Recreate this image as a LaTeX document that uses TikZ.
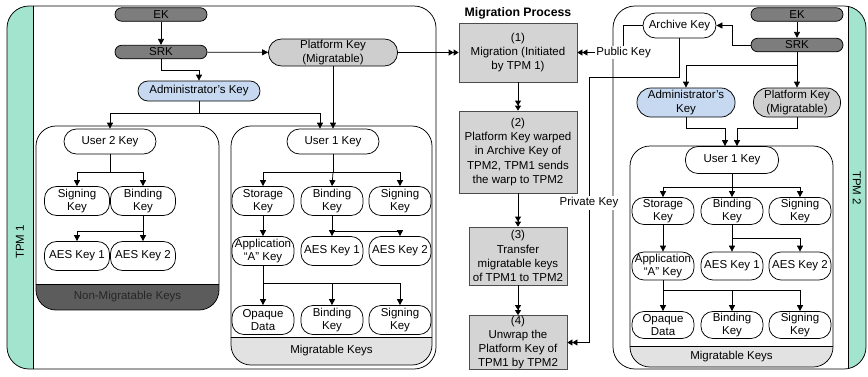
\documentclass[tikz,border=0pt]{standalone}
\usepackage{fontspec}
\setmainfont{Liberation Sans}
\usetikzlibrary{arrows.meta}

\definecolor{tpmteal}{RGB}{163,228,206}
\definecolor{keydark}{RGB}{125,125,125}
\definecolor{platgray}{RGB}{206,206,206}
\definecolor{adminblue}{RGB}{198,217,241}
\definecolor{procgray}{RGB}{212,212,212}
\definecolor{bandlight}{RGB}{226,226,226}
\definecolor{banddark}{RGB}{92,92,92}

\tikzset{
  darkkey/.style={draw, fill=keydark, rounded corners=6.7pt, minimum width=92pt, minimum height=13.5pt, inner sep=0pt},
  userkey/.style={draw, fill=white, rounded corners=12.5pt, minimum width=92pt, minimum height=25pt, inner sep=0pt},
  leafkey/.style={draw, fill=white, rounded corners=12pt, minimum width=62pt, minimum height=29pt, inner sep=0pt, align=center},
  platkey/.style={draw, fill=platgray, rounded corners=13pt, minimum height=27pt, inner sep=0pt, align=center},
  adminkey/.style={draw, fill=adminblue, inner sep=0pt, align=center},
  procbox/.style={draw=black!70, fill=procgray, inner sep=0pt, align=center, font=\fontsize{11.5}{14.2}\selectfont},
  keyarrow/.style={-{Triangle[length=6pt,width=6pt]}},
  dblarrow/.style={-{Triangle[length=5pt,width=6pt]Triangle[length=5pt,width=6pt]}},
  edgelabel/.style={fill=white, inner sep=1.2pt},
  tpmframe/.style={draw, rounded corners=22pt},
  keyframe/.style={draw, rounded corners=20pt},
}

\begin{document}
\begin{tikzpicture}[x=1pt,y=-1pt,font=\fontsize{11.5}{13.5}\selectfont,line width=0.75pt]
\fill[white] (0,0) rectangle (868,376);
\useasboundingbox (0,0) rectangle (868,376);

% ---------- TPM 1 frame ----------
\begin{scope}
  \clip[rounded corners=22pt] (7,6) rectangle (436,369);
  \fill[tpmteal] (7,6) rectangle (33,369);
\end{scope}
\draw[tpmframe] (7,6) rectangle (436,369);
\draw (33,6) -- (33,369);
\node[rotate=90] (tpmonename) at (20,242) {TPM 1};

% non-migratable key area
\begin{scope}
  \clip[rounded corners=20pt] (36,126) rectangle (219,310);
  \fill[banddark] (36,284) rectangle (219,310);
\end{scope}
\draw[keyframe] (36,126) rectangle (219,310);
\draw (36,284) -- (219,284);
\node[text=black!85] (nonmigA) at (127.5,297) {Non-Migratable Keys};

% migratable key area
\begin{scope}
  \clip[rounded corners=20pt] (231,126) rectangle (432,365);
  \fill[bandlight] (231,337) rectangle (432,365);
\end{scope}
\draw[keyframe] (231,126) rectangle (432,365);
\draw (231,337) -- (432,337);
\node (migA) at (331.5,351) {Migratable Keys};

% ---------- TPM 2 frame ----------
\begin{scope}
  \clip[rounded corners=22pt] (613,6) rectangle (866,369);
  \fill[tpmteal] (848,6) rectangle (866,369);
\end{scope}
\draw[tpmframe] (613,6) rectangle (866,369);
\draw (848,6) -- (848,369);
\node[rotate=-90] (tpmtwoname) at (857,188) {TPM 2};

\begin{scope}
  \clip[rounded corners=20pt] (630,146) rectangle (833,367);
  \fill[bandlight] (630,346) rectangle (833,367);
\end{scope}
\draw[keyframe] (630,146) rectangle (833,367);
\draw (630,346) -- (833,346);
\node (migB) at (731.5,357) {Migratable Keys};

% ---------- TPM 1 keys ----------
\node[darkkey] (ekA) at (161,14.5) {EK};
\node[darkkey] (srkA) at (161,52) {SRK};
\node[platkey, minimum width=129pt] (platA) at (333,52.5) {Platform Key\\(Migratable)};
\node[adminkey, rounded corners=10pt, minimum width=122pt, minimum height=20pt] (adminA) at (199,91) {Administrator's Key};
\node[userkey] (user2A) at (110,141.5) {User 2 Key};
\node[userkey] (user1A) at (333,141.5) {User 1 Key};

\node[leafkey, minimum width=65pt] (signA) at (77,201) {Signing\\Key};
\node[leafkey, minimum width=65pt] (bindA) at (143,201) {Binding\\Key};
\node[leafkey, minimum width=65pt] (aesoneA) at (77,256) {AES Key 1};
\node[leafkey, minimum width=65pt] (aestwoA) at (143,256) {AES Key 2};

\node[leafkey] (storM) at (263,201) {Storage\\Key};
\node[leafkey] (bindM) at (332,201) {Binding\\Key};
\node[leafkey] (signM) at (400,201) {Signing\\Key};
\node[leafkey] (appM) at (263,251) {Application\\``A'' Key};
\node[leafkey] (aesoneM) at (332,251) {AES Key 1};
\node[leafkey] (aestwoM) at (400,251) {AES Key 2};
\node[leafkey] (opaqM) at (263,320) {Opaque\\Data};
\node[leafkey] (bindtwoM) at (332,320) {Binding\\Key};
\node[leafkey] (signtwoM) at (400,320) {Signing\\Key};

% TPM 1 connectors
\draw[keyarrow] (ekA) -- (srkA);
\draw[keyarrow] (srkA) -- (platA);
\draw[keyarrow] (srkA.south) -- ++(0,11) -| (adminA.north);
\draw (adminA.south) -- ++(0,12) coordinate (adminsplitA);
\draw[keyarrow] (adminsplitA) -| (user2A.north);
\draw[keyarrow] (adminsplitA) -| ([xshift=-13pt]user1A.north);
\draw[keyarrow] (platA.south) -- (user1A.north);

\draw (user2A.south) -- ++(0,18) coordinate (user2split);
\draw[keyarrow] (user2split) -| (signA.north);
\draw[keyarrow] (user2split) -| (bindA.north);
\draw (bindA.south) -- ++(0,15) coordinate (bindsplitA);
\draw[keyarrow] (bindsplitA) -| (aesoneA.north);
\draw[keyarrow] (bindsplitA) -| (aestwoA.north);

\draw (user1A.south) -- ++(0,18) coordinate (user1split);
\draw[keyarrow] (user1split) -| (storM.north);
\draw[keyarrow] (user1split) -- (bindM.north);
\draw[keyarrow] (user1split) -| (signM.north);
\draw[keyarrow] (storM) -- (appM);
\draw (bindM.south) -- ++(0,15) coordinate (bindsplitM);
\draw[keyarrow] (bindsplitM) -- (aesoneM.north);
\draw[keyarrow] (bindsplitM) -| (aestwoM.north);
\draw (appM.south) -- ++(0,17) coordinate (appsplitM);
\draw[keyarrow] (appsplitM) -- (opaqM.north);
\draw[keyarrow] (appsplitM) -| (bindtwoM.north);
\draw[keyarrow] (appsplitM) -| (signtwoM.north);

% ---------- TPM 2 keys ----------
\node[darkkey] (ekB) at (797,14.5) {EK};
\node[darkkey] (srkB) at (797,45) {SRK};
\node[userkey, minimum width=73pt] (archB) at (679.5,25.5) {Archive Key};
\node[adminkey, rounded corners=14pt, minimum width=98pt, minimum height=29pt] (adminB) at (686,102.5) {Administrator's\\Key};
\node[platkey, rounded corners=14pt, minimum width=87pt, minimum height=29pt] (platB) at (797,102.5) {Platform Key\\(Migratable)};
\node[userkey, minimum width=93pt, minimum height=27pt] (user1B) at (732,160) {User 1 Key};

\node[leafkey, minimum height=27pt] (storB) at (663,211) {Storage\\Key};
\node[leafkey, minimum height=27pt] (bindB) at (732,211) {Binding\\Key};
\node[leafkey, minimum height=27pt] (signB) at (800,211) {Signing\\Key};
\node[leafkey, minimum height=28pt] (appB) at (663,266) {Application\\``A'' Key};
\node[leafkey, minimum height=28pt] (aesoneB) at (732,266) {AES Key 1};
\node[leafkey, minimum height=28pt] (aestwoB) at (800,266) {AES Key 2};
\node[leafkey, minimum height=27pt] (opaqB) at (663,325) {Opaque\\Data};
\node[leafkey, minimum height=27pt] (bindtwoB) at (732,325) {Binding\\Key};
\node[leafkey, minimum height=27pt] (signtwoB) at (800,325) {Signing\\Key};

% TPM 2 connectors
\draw[keyarrow] (ekB) -- (srkB);
\draw[keyarrow] (srkB.west) -- ++(-18,0) |- (archB.east);
\draw (srkB.south) -- ++(0,13) coordinate (srksplitB);
\draw[keyarrow] (srksplitB) -- (platB.north);
\draw[keyarrow] (srksplitB) -| (adminB.north);
\draw[keyarrow] (adminB.south) -- ++(0,11) -| ([xshift=-7pt]user1B.north);
\draw[keyarrow] (platB.south) -- ++(0,11) -| ([xshift=5pt]user1B.north);

\draw (user1B.south) -- ++(0,13) coordinate (user1splitB);
\draw[keyarrow] (user1splitB) -| (storB.north);
\draw[keyarrow] (user1splitB) -- (bindB.north);
\draw[keyarrow] (user1splitB) -| (signB.north);
\draw[keyarrow] (storB) -- (appB);
\draw (bindB.south) -- ++(0,13) coordinate (bindsplitB);
\draw[keyarrow] (bindsplitB) -- (aesoneB.north);
\draw[keyarrow] (bindsplitB) -| (aestwoB.north);
\draw (appB.south) -- ++(0,10) coordinate (appsplitB);
\draw[keyarrow] (appsplitB) -- (opaqB.north);
\draw[keyarrow] (appsplitB) -| (bindtwoB.north);
\draw[keyarrow] (appsplitB) -| (signtwoB.north);

% ---------- migration process ----------
\node[font=\bfseries\fontsize{12.3}{14}\selectfont] (migtitle) at (518,13) {Migration Process};
\node[procbox, minimum width=118pt, minimum height=59pt] (stepone) at (518,52.5) {(1)\\Migration (Initiated\\by TPM 1)};
\node[procbox, minimum width=118pt, minimum height=82pt] (steptwo) at (518,152) {(2)\\Platform Key warped\\in Archive Key of\\TPM2, TPM1 sends\\the warp to TPM2};
\node[procbox, minimum width=98pt, minimum height=58pt] (stepthree) at (518,256) {(3)\\Transfer\\migratable keys\\of TPM1 to TPM2};
\node[procbox, minimum width=98pt, minimum height=54pt] (stepfour) at (518,342.5) {(4)\\Unwrap the\\Platform Key of\\TPM1 by TPM2};

\draw[dblarrow] (platA) -- (stepone);
\draw[dblarrow] (stepone) -- (steptwo);
\draw[dblarrow] (steptwo) -- (stepthree);
\draw[dblarrow] (stepthree) -- (stepfour);

% key exchange between the two TPMs
\draw[dblarrow] (archB.west) -- ++(-19,0) coordinate (pubcorner) |- (stepone.east);
\coordinate (privturn) at (589,77);
\draw[dblarrow] (archB.south) |- (privturn) |- (stepfour.east);
\node[edgelabel] (publabel) at (pubcorner |- stepone.east) {Public Key};
\node[edgelabel] (privlabel) at (589,203) {Private Key};
\end{tikzpicture}
\end{document}
